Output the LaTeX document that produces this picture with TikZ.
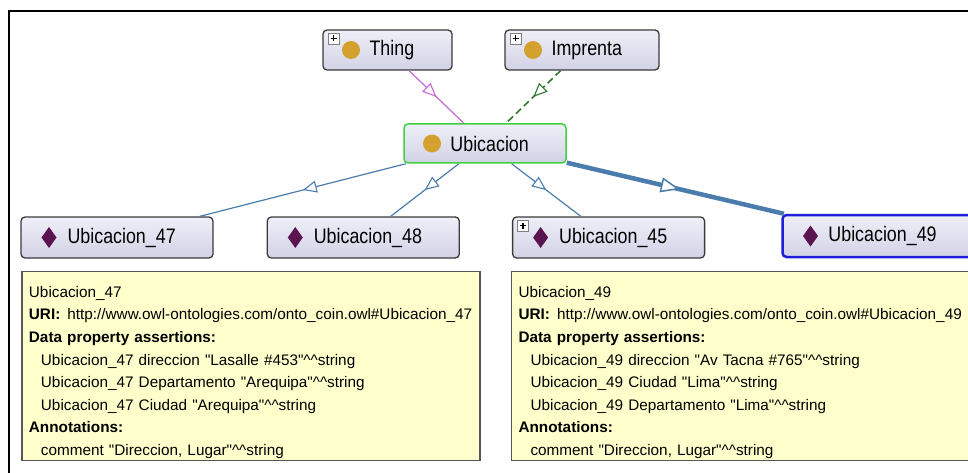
\documentclass[tikz,border=0pt]{standalone}
\usepackage{fontspec}
\setmainfont{Liberation Sans}
\newfontfamily\glyphfont[FakeStretch=0.85]{Liberation Sans}
\usetikzlibrary{arrows.meta,positioning,decorations.markings}
\definecolor{ogtop}{HTML}{EFEFF8}
\definecolor{ogbot}{HTML}{D2D2E6}
\definecolor{ogline}{HTML}{3A3A3A}
\definecolor{ogsel}{HTML}{3FD23F}
\definecolor{ogpick}{HTML}{1F1FD9}
\definecolor{ogclass}{HTML}{D4A02E}
\definecolor{ogindiv}{HTML}{5A1550}
\definecolor{oglink}{HTML}{4A7DAE}
\definecolor{ogsub}{HTML}{C46AD4}
\definecolor{ogeq}{HTML}{2F7A2F}
\definecolor{tipfill}{HTML}{FFFFCC}
\definecolor{tipline}{HTML}{555555}

\newcommand\dotmark{\fill[ogclass] ([xshift=28pt]path picture bounding box.west) circle (9pt);}
\newcommand\gemmark{\fill[ogindiv, sharp corners] ([xshift=28pt]path picture bounding box.west)
  +(0pt,10.5pt) -- +(7.5pt,0pt) -- +(0pt,-10.5pt) -- +(-7.5pt,0pt) -- cycle;}
\newcommand\plusmark{%
  \draw[gray, fill=white, sharp corners, line width=0.8pt] ([shift={(5pt,-3pt)}]path picture bounding box.north west)
    rectangle +(11pt,-11pt);
  \draw[black, sharp corners, line width=1.3pt] ([shift={(7.5pt,-8.5pt)}]path picture bounding box.north west) -- +(6pt,0pt)
    ([shift={(10.5pt,-5.5pt)}]path picture bounding box.north west) -- +(0pt,-6pt);}
\newcommand\caret{\textasciicircum\textasciicircum}
\newcommand\qt[1]{\textquotedbl#1\textquotedbl}
\newcommand\pushin{\hspace*{14pt}}

\begin{document}
\begin{tikzpicture}[
  x=1pt, y=-1pt,
  box/.style  = {rectangle, rounded corners=4pt, draw=ogline, line width=1.3pt,
                 top color=ogtop, bottom color=ogbot, minimum height=40pt, inner sep=0pt},
  lbl/.style  = {anchor=west, xshift=47pt, inner sep=0pt, font=\glyphfont\fontsize{21}{24}\selectfont},
  cls/.style  = {box, label={[lbl]west:#1}, path picture={\dotmark}},
  clsx/.style = {box, label={[lbl]west:#1}, path picture={\dotmark\plusmark}},
  ind/.style  = {box, minimum width=192pt, minimum height=41pt, label={[lbl]west:#1}, path picture={\gemmark}},
  indx/.style = {box, minimum width=192pt, minimum height=41pt, label={[lbl]west:#1}, path picture={\gemmark\plusmark}},
  tip/.style  = {rectangle, draw=tipline, line width=1.2pt, fill=tipfill,
                 text width=448pt, align=left, inner xsep=5pt, inner ysep=2pt,
                 font=\fontsize{15.3}{22.6}\selectfont},
  isa/.style  = {oglink, line width=1.2pt, postaction={decorate, decoration={markings,
                 mark=at position 0.5 with {\arrow{Triangle[length=14pt, width=12pt, fill=white, line width=1.1pt]}}}}},
  pickedisa/.style = {oglink, line width=4.5pt, postaction={decorate, decoration={markings,
                 mark=at position 0.52 with {\arrow{Triangle[length=19pt, width=15pt, fill=white, line width=1.5pt]}}}}},
]
\useasboundingbox (0,0) rectangle (968,473);

% --- the window frame ------------------------------------------------------------------------------
\draw[line width=2.5pt] (9,473) |- (968,11);

% --- classes ---------------------------------------------------------------------------------------
\node[clsx=Thing, minimum width=129pt] (thing) at (387.5,50) {};
\node[clsx=Imprenta, minimum width=154pt] (impr) at (582,50) {};
\node[cls=Ubicacion, minimum width=162pt, minimum height=39pt, draw=ogsel, line width=1.5pt] (ubic) at (485,143.5) {};

% --- individuals -----------------------------------------------------------------------------------
\node[ind=Ubicacion\_47] (u47) at (117,237.5) {};
\node[ind=Ubicacion\_48, right=53pt of u47] (u48) {};
\node[indx=Ubicacion\_45, right=52pt of u48] (u45) {};
\node[ind=Ubicacion\_49, draw=ogpick, line width=2.5pt, minimum height=42pt,
      right=76pt of u45, yshift=1.5pt] (u49) {};

% --- links -----------------------------------------------------------------------------------------
\draw[isa, ogsub] (thing) -- (ubic);
\draw[isa, ogeq, line width=1.6pt, dash pattern=on 7pt off 4pt] (impr) -- (ubic);
\draw[isa] (ubic) -- (u47);
\draw[isa] (ubic) -- (u48);
\draw[isa] (ubic) -- (u45);
\draw[pickedisa] (ubic) -- (u49);

% --- the two tool tips -----------------------------------------------------------------------------
\node[tip, below=12pt of u47.south west, anchor=north west, xshift=1pt] (d47) {%
  \rule{0pt}{24pt}\hspace*{2pt}Ubicacion\_47\\
  \hspace*{2pt}\textbf{URI:}\hspace{7pt}http://www.owl-ontologies.com/onto\_coin.owl\#Ubicacion\_47\\
  \hspace*{2pt}\textbf{Data property assertions:}\\
  \pushin Ubicacion\_47 direccion \qt{Lasalle \#453}\caret string\\
  \pushin Ubicacion\_47 Departamento \qt{Arequipa}\caret string\\
  \pushin Ubicacion\_47 Ciudad \qt{Arequipa}\caret string\\
  \hspace*{2pt}\textbf{Annotations:}\\
  \pushin comment \qt{Direccion, Lugar}\caret string};
\node[tip, below=12pt of u45.south west, anchor=north west, xshift=-1pt] (d49) {%
  \rule{0pt}{24pt}\hspace*{2pt}Ubicacion\_49\\
  \hspace*{2pt}\textbf{URI:}\hspace{7pt}http://www.owl-ontologies.com/onto\_coin.owl\#Ubicacion\_49\\
  \hspace*{2pt}\textbf{Data property assertions:}\\
  \pushin Ubicacion\_49 direccion \qt{Av Tacna \#765}\caret string\\
  \pushin Ubicacion\_49 Ciudad \qt{Lima}\caret string\\
  \pushin Ubicacion\_49 Departamento \qt{Lima}\caret string\\
  \hspace*{2pt}\textbf{Annotations:}\\
  \pushin comment \qt{Direccion, Lugar}\caret string};

\end{tikzpicture}
\end{document}
